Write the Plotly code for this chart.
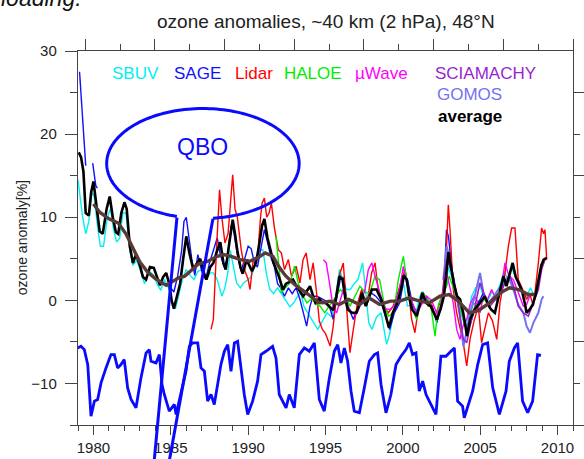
import numpy as np
import plotly.graph_objects as go

# ---------------- data ----------------
avg_t = [1979.05,1979.2,1979.35,1979.5,1979.7,1979.85,1980.0,1980.2,1980.4,1980.6,1980.85,1981.05,1981.25,1981.45,1981.6,1981.8,1982.0,1982.15,1982.35,1982.55,1982.75,1983.0,1983.2,1983.4,1983.65,1983.9,1984.1,1984.3,1984.5,1984.7,1984.9,1985.05,1985.2,1985.4,1985.6,1985.8,1986.0,1986.2,1986.45,1986.7,1986.9,1987.1,1987.3,1987.55,1987.75,1988.0,1988.2,1988.4,1988.55,1988.75,1989.0,1989.15,1989.3,1989.5,1989.65,1989.9,1990.1,1990.25,1990.5,1990.7,1990.9,1991.05,1991.25,1991.45,1991.65,1991.85,1992.0,1992.25,1992.45,1992.65,1992.9,1993.1,1993.3,1993.55,1993.75,1994.0,1994.2,1994.35,1994.6,1994.8,1995.0,1995.25,1995.5,1995.7,1995.9,1996.1,1996.3,1996.45,1996.7,1997.0,1997.2,1997.35,1997.6,1997.8,1998.0,1998.3,1998.6,1998.85,1999.0,1999.1,1999.35,1999.65,1999.9,2000.05,2000.25,2000.45,2000.6,2000.9,2001.1,2001.25,2001.5,2001.8,2002.0,2002.2,2002.45,2002.65,2002.8,2002.95,2003.1,2003.3,2003.5,2003.7,2003.9,2004.05,2004.15,2004.35,2004.6,2004.9,2005.1,2005.3,2005.5,2005.7,2005.95,2006.15,2006.3,2006.5,2006.7,2006.9,2007.1,2007.3,2007.5,2007.7,2007.9,2008.0,2008.2,2008.4,2008.6,2008.8,2008.95,2009.1,2009.3]
avg_v = [17.8,17.2,15.5,10.5,10.2,13.0,14.3,11.5,8.3,8.0,11.0,12.5,10.0,8.2,8.0,10.5,11.8,11.0,6.5,4.5,5.5,4.2,2.8,2.5,4.0,3.9,2.8,1.8,2.8,3.3,2.0,0.0,-1.0,0.5,2.0,5.0,7.7,5.7,3.7,4.5,5.0,3.5,2.5,4.0,4.5,6.0,7.0,4.5,3.7,6.5,9.7,8.0,6.0,4.0,3.2,4.9,4.0,3.5,4.5,6.5,9.0,9.8,7.5,6.0,4.5,3.5,2.8,1.3,2.0,2.2,2.5,1.8,1.2,0.5,1.0,1.7,0.5,-0.3,0.2,-0.3,-0.3,-0.7,-1.2,0.5,2.9,2.5,0.0,-1.1,-1.5,-1.5,-0.5,0.9,-0.7,0.3,1.3,1.3,0.1,-1.5,-2.8,-3.3,-1.5,-0.3,1.5,3.0,2.5,0.0,-1.1,-1.9,-0.5,0.9,-0.3,-0.7,-1.5,-2.3,-1.0,0.5,3.0,5.8,4.2,2.0,0.5,0.1,-1.5,-3.5,-4.3,-2.3,-1.2,-0.5,0.0,0.5,-0.5,-1.1,-1.5,0.0,1.3,2.9,1.7,3.3,4.5,2.8,2.0,1.2,-0.5,-1.5,-1.1,-0.5,0.8,3.0,4.2,4.9,5.1]

trend_t = [1980.0,1980.4,1981.0,1981.6,1982.1,1982.5,1983.0,1983.5,1984.0,1984.7,1985.1,1985.5,1985.9,1986.3,1986.8,1987.4,1988.0,1988.4,1988.9,1989.5,1990.1,1990.7,1991.1,1991.6,1992.0,1992.4,1993.0,1993.6,1994.2,1994.6,1995.0,1995.3,1995.9,1996.5,1997.2,1997.8,1998.5,1999.2,1999.8,2000.4,2001.1,2001.7,2002.4,2003.0,2003.6,2004.3,2004.9,2005.6,2006.3,2006.9,2007.5,2008.1,2008.5]
trend_v = [11.6,10.6,9.8,9.3,8.0,6.4,4.6,3.4,2.6,1.8,2.3,2.7,2.9,3.6,4.4,4.7,5.3,5.5,5.3,4.9,4.7,5.2,5.7,5.3,4.0,3.0,1.9,1.1,0.3,-0.3,-0.2,-0.1,-0.5,0.1,-0.5,0.3,-0.5,-0.1,-0.1,0.3,-0.1,-0.3,0.5,0.7,-0.1,-1.5,-1.2,-0.3,0.9,1.5,1.3,0.7,0.7]

sbuv_t = [1979.0,1979.15,1979.3,1979.5,1979.7,1979.9,1980.05,1980.25,1980.45,1980.65,1980.9,1981.1,1981.3,1981.5,1981.7,1981.9,1982.1,1982.35,1982.55,1982.8,1983.0,1983.3,1983.6,1983.9,1984.1,1984.35,1984.6,1984.85,1985.1,1985.3,1985.5,1985.75,1986.0,1986.25,1986.5,1986.75,1987.0,1987.3,1987.55,1987.75,1988.0,1988.3,1988.5,1988.7,1988.85,1989.05,1989.25,1989.5,1989.7,1990.0,1990.2,1990.5,1990.75,1990.95,1991.2,1991.4,1991.65,1991.9,1992.1,1992.4,1992.7,1992.95,1993.2,1993.4,1993.6,1993.85,1994.2,1994.5,1994.8,1995.1,1995.4,1995.7,1995.9,1996.1,1996.35,1996.6,1996.85,1997.1,1997.4,1997.6,1997.8,1998.0,1998.3,1998.6,1998.8,1998.95,1999.15,1999.45,1999.8,2000.05,2000.3,2000.6,2000.85,2001.1,2001.3,2001.6,2001.9,2002.2,2002.5,2002.75,2002.95,2003.2,2003.5,2003.75,2004.0,2004.2,2004.45,2004.7,2004.95,2005.2,2005.5,2005.75,2006.0,2006.3,2006.55,2006.8,2007.0,2007.25,2007.5,2007.75,2008.0,2008.25,2008.5,2008.75,2009.0]
sbuv_v = [14.5,12.5,10.0,8.0,9.5,13.0,12.5,9.0,6.5,6.5,10.0,11.0,8.5,7.0,7.5,10.5,10.5,6.0,4.2,4.8,3.8,2.0,3.5,3.0,2.0,1.2,2.5,1.5,-0.5,-1.0,0.5,2.5,3.7,3.0,2.5,3.5,3.7,2.5,3.3,3.3,2.5,0.5,1.5,3.5,6.0,4.0,2.1,1.5,2.1,2.5,2.9,4.5,6.0,6.1,3.0,1.3,0.8,1.5,0.9,0.1,-0.8,-0.3,0.5,0.9,-0.7,-1.5,-2.5,-3.5,-2.5,-1.5,-2.0,1.0,3.7,2.5,1.3,1.3,2.0,2.5,4.5,1.0,-2.7,-3.5,-2.0,-1.5,-4.0,-5.3,-4.0,-1.1,0.5,2.0,-0.7,-0.5,-1.5,0.5,1.0,0.0,-1.0,-2.0,-0.5,1.5,4.0,2.5,0.0,-1.5,-3.0,-2.0,0.5,1.5,2.0,0.5,0.0,1.0,0.5,2.0,3.5,2.5,4.0,3.0,2.0,1.0,0.5,1.5,0.5,2.5,4.0]

sage_t = [1979.1,1979.2,1979.3,1979.4,1979.5,1979.7,1979.95,1980.05,1980.15,1980.25,1982.0,
          1984.8,1985.0,1985.2,1985.45,1985.7,1985.85,1986.0,1986.15,1986.35,1986.55,1986.75,1987.0,1987.25,1987.5,1987.75,1988.0,1988.2,1988.45,1988.65,1988.9,1989.05,1989.3,1989.55,1989.8,1990.0,1990.2,1990.4,1990.6,1990.85,1991.05,1991.25,1991.5,1991.7,1991.9,1992.1,1992.35,1992.6,1992.85,1993.1,1993.35,1993.57,1993.78,1994.0,1994.2,1994.45,1994.7,1994.95,1995.25,1995.5,1995.75,1995.95,1996.15,1996.45,1996.8,1997.05,1997.35,1997.65,1997.95,1998.25,1998.6,1998.95,1999.15,1999.45,1999.8,2000.1,2000.3,2000.65,2000.95,2001.3,2001.6,2001.9,2002.2,2002.5,2002.7,2002.82,2002.95,2003.15,2003.4,2003.7,2004.0,2004.2,2004.45,2004.75,2005.0,2005.2,2005.5]
sage_v = [27.5,24.5,21.0,18.0,16.2,None,16.5,15.0,13.8,13.5,None,
          2.5,1.5,1.0,3.0,6.0,9.5,10.0,8.0,5.0,3.0,5.5,3.5,2.5,4.5,6.0,7.5,5.5,4.0,5.0,9.0,8.5,5.5,3.5,5.0,6.5,6.2,4.5,4.0,6.5,8.5,7.0,5.0,4.0,2.0,1.5,0.5,1.5,0.8,1.5,0.1,-1.5,-3.1,-0.7,0.5,0.5,0.2,0.0,-0.7,-2.3,0.5,2.5,2.7,-0.7,-2.3,-1.0,0.9,-0.5,0.9,0.5,-0.3,-2.3,-3.5,-1.5,-0.3,2.9,2.5,-0.7,-1.5,0.5,0.1,-0.7,-2.7,-0.3,3.3,8.5,7.7,4.1,1.0,-0.3,-2.7,-3.9,-2.3,-0.5,0.1,0.9,-0.5]

lidar_t = [1987.6,1987.75,1987.95,1988.15,1988.3,1988.5,1988.7,1988.85,1989.0,1989.15,1989.3,1989.55,1989.8,1990.0,1990.12,1990.33,1990.6,1990.8,1990.9,1991.05,1991.2,1991.35,1991.5,1991.7,1991.95,1992.15,1992.35,1992.6,1992.8,1993.1,1993.35,1993.55,1993.75,1994.0,1994.2,1994.4,1994.6,1994.8,1995.0,1995.3,1995.5,1995.7,1995.94,1996.15,1996.37,1996.58,1996.8,1997.05,1997.34,1997.66,1997.98,1998.2,1998.41,1998.7,1999.06,1999.35,1999.6,1999.92,2000.14,2000.35,2000.57,2000.78,2001.0,2001.32,2001.65,2001.85,2002.08,2002.35,2002.62,2002.83,2002.94,2003.05,2003.26,2003.48,2003.69,2003.9,2004.13,2004.34,2004.6,2004.88,2005.09,2005.3,2005.53,2005.8,2006.07,2006.28,2006.55,2006.82,2007.03,2007.25,2007.46,2007.7,2008.0,2008.2,2008.44,2008.76,2008.97,2009.1,2009.19,2009.3]
lidar_v = [-3.5,-2.3,6.0,13.3,10.0,6.9,8.0,12.0,15.1,11.0,10.0,6.1,3.5,2.5,1.3,4.9,5.0,10.0,11.7,12.3,10.0,10.5,11.7,8.7,6.1,5.7,3.7,4.9,2.9,4.1,2.1,4.9,5.7,2.5,4.5,1.3,-2.5,-3.5,-4.0,-5.5,-3.1,0.5,3.3,4.5,-1.5,-6.3,-3.5,-0.5,1.3,-0.7,3.3,4.5,1.3,-0.5,-1.5,-0.8,0.5,2.5,3.7,1.3,-2.3,-3.9,-1.0,0.9,-0.7,-0.5,-1.9,-0.5,1.3,6.5,11.5,8.5,1.3,-1.5,-3.1,-5.0,-7.9,-4.7,-2.5,-0.7,-5.1,-3.5,-1.5,-2.5,-4.7,-0.3,2.5,6.5,8.7,8.7,2.5,1.5,0.1,0.8,-0.7,4.5,8.7,8.0,8.5,4.9]

haloe_t = [1991.8,1991.95,1992.15,1992.4,1992.7,1993.0,1993.25,1993.55,1993.8,1994.1,1994.4,1994.65,1994.95,1995.3,1995.7,1995.95,1996.25,1996.58,1996.9,1997.23,1997.55,1997.85,1998.2,1998.5,1998.8,1999.06,1999.4,1999.71,2000.03,2000.25,2000.57,2000.89,2001.22,2001.5,2001.8,2002.08,2002.3,2002.62,2002.83,2003.0,2003.3,2003.69,2004.02,2004.23,2004.56,2004.88,2005.09,2005.4]
haloe_v = [7.7,4.9,0.9,1.5,2.1,4.1,2.0,0.5,-0.3,0.2,-0.5,-0.7,-1.5,-0.5,0.5,1.3,0.8,-0.7,0.5,1.7,1.0,0.8,2.9,2.5,-0.5,-1.9,-1.5,2.5,5.3,2.5,-0.7,-2.3,0.9,0.5,-0.5,-4.3,-0.5,0.9,1.7,2.9,1.3,-0.7,-3.1,-2.7,-0.3,-0.7,-0.3,0.3]

mwave_t = [1994.86,1995.05,1995.29,1995.5,1995.72,1995.94,1996.15,1996.4,1996.69,1996.95,1997.23,1997.55,1997.77,1998.0,1998.2,1998.52,1998.85,1999.17,1999.5,1999.8,2000.03,2000.25,2000.55,2000.89,2001.2,2001.54,2001.85,2002.19,2002.4,2002.62,2002.83,2003.05,2003.26,2003.48,2003.69,2003.9,2004.13,2004.35,2004.6,2004.8,2004.99,2005.2,2005.45,2005.74,2006.05,2006.39,2006.6,2006.85,2007.14,2007.45,2007.79,2008.0,2008.2]
mwave_v = [4.9,4.5,1.7,-1.0,-1.5,0.1,1.3,-0.5,-1.5,-1.8,-0.7,1.3,3.7,4.5,2.9,0.9,-1.0,-1.1,-0.5,1.5,4.1,2.0,0.0,-1.5,-0.5,0.5,0.0,-1.5,-1.0,1.3,3.3,1.5,-0.3,-3.5,-4.7,-3.0,-2.3,-0.5,0.5,0.0,-1.5,0.5,0.0,1.3,0.0,1.7,4.5,3.0,2.5,1.0,-0.7,-0.5,0.5]

scia_t = [2002.62,2002.85,2003.05,2003.26,2003.5,2003.7,2003.91,2004.13,2004.35,2004.66,2004.99,2005.3,2005.63,2005.95,2006.28,2006.6,2006.93,2007.2,2007.46,2007.79,2008.11,2008.44,2008.76,2008.97,2009.19]
scia_v = [2.5,5.0,4.0,2.9,0.5,-2.0,-4.7,-5.1,-3.0,-0.7,2.1,0.5,-0.7,0.0,0.9,2.0,2.9,1.5,-0.7,-1.5,-1.9,-0.3,1.3,3.7,4.9]

gomos_t = [2002.62,2002.83,2003.05,2003.26,2003.48,2003.7,2003.91,2004.1,2004.34,2004.65,2004.99,2005.2,2005.5,2005.85,2006.17,2006.5,2006.82,2007.14,2007.46,2007.79,2008.0,2008.22,2008.44,2008.76,2008.97,2009.08]
gomos_v = [2.5,6.5,5.0,2.5,0.5,-2.0,-5.5,-4.0,-1.5,0.5,3.3,1.0,-0.5,0.5,1.3,2.0,2.9,1.3,-0.5,-1.5,-3.1,-3.9,-2.7,-1.5,0.1,0.5]

qbo_t = [1978.98,1979.19,1979.41,1979.63,1979.84,1980.06,1980.27,1980.49,1980.81,1981.13,1981.35,1981.56,1981.78,1981.99,1982.21,1982.43,1982.75,1983.07,1983.40,1983.61,1983.72,1984.04,1984.26,1984.43,1984.58,1984.90,1985.23,1985.34,1985.98,1986.20,1986.41,1986.74,1986.95,1987.17,1987.38,1987.60,1987.81,1988.24,1988.46,1988.68,1988.89,1989.11,1989.32,1989.54,1989.75,1989.97,1990.29,1990.61,1990.83,1991.15,1991.58,1991.80,1992.01,1992.45,1992.66,1992.98,1993.31,1993.63,1993.95,1994.28,1994.60,1994.92,1995.25,1995.57,1995.79,1996.00,1996.22,1996.43,1996.65,1996.86,1997.19,1997.51,1997.83,1998.16,1998.37,1998.59,1998.91,1999.23,1999.56,1999.88,2000.20,2000.42,2000.63,2000.85,2001.06,2001.28,2001.50,2001.71,2002.14,2002.46,2002.79,2003.11,2003.33,2003.54,2003.86,2003.97,2004.19,2004.51,2004.84,2005.16,2005.48,2005.81,2006.24,2006.67,2006.88,2007.21,2007.42,2007.74,2008.07,2008.39,2008.71,2008.93]
qbo_v = [-5.73,-5.53,-5.93,-7.73,-13.93,-12.13,-11.93,-9.93,-8.13,-6.53,-6.53,-8.13,-7.73,-7.13,-10.53,-11.93,-12.93,-9.33,-6.33,-5.93,-7.33,-7.53,-6.53,-10.13,-11.33,-13.33,-12.53,-13.73,-8.53,-5.53,-5.13,-5.13,-8.13,-8.53,-12.13,-11.33,-12.53,-7.73,-6.13,-5.33,-8.53,-5.13,-4.93,-8.53,-11.33,-13.73,-12.13,-9.73,-6.53,-6.13,-5.53,-6.93,-11.33,-12.93,-11.33,-12.93,-6.53,-5.73,-6.13,-5.13,-11.93,-13.33,-9.33,-6.13,-5.33,-7.53,-5.73,-7.33,-10.93,-13.33,-13.53,-10.53,-7.33,-6.53,-6.33,-10.13,-13.53,-11.33,-7.73,-6.73,-5.93,-5.13,-6.53,-6.33,-10.93,-9.73,-11.33,-12.13,-13.73,-6.73,-6.73,-6.13,-5.73,-12.13,-12.73,-14.13,-12.93,-10.93,-7.73,-5.33,-5.13,-10.53,-13.73,-10.93,-7.33,-5.73,-5.13,-12.13,-13.53,-12.13,-6.53,-6.61]

x_ticks = [1980, 1985, 1990, 1995, 2000, 2005, 2010]
y_ticks = [-10, 0, 10, 20, 30]

legend_items = [("SBUV", "#00f0f0"), ("SAGE", "#1010ff"), ("Lidar", "#ff0000"),
                ("HALOE", "#00ee00"), ("\u00b5Wave", "#ff00ff"), ("SCIAMACHY", "#9a1fd0"),
                ("GOMOS", "#7272f2"), ("average", "#000000")]

FONT = "Arial, Liberation Sans, sans-serif"
fig = go.Figure()

def line(t, v, color, width):
    fig.add_trace(go.Scatter(x=t, y=v, mode="lines", line=dict(color=color, width=width),
                             hoverinfo="skip", connectgaps=False))

line(qbo_t, qbo_v, "#0a0aff", 2.8)
line(sbuv_t, sbuv_v, "#00f0f0", 1.4)
line(sage_t, sage_v, "#1010ff", 1.4)
line(lidar_t, lidar_v, "#ff0000", 1.4)
line(haloe_t, haloe_v, "#00ee00", 1.4)
line(mwave_t, mwave_v, "#ff00ff", 1.4)
line(gomos_t, gomos_v, "#7272f2", 2.0)
line(scia_t, scia_v, "#9a1fd0", 1.6)
line(avg_t, avg_v, "#000000", 2.6)
line(trend_t, trend_v, "#5a3a36", 3.4)
# dummy trace for the mirrored axes
fig.add_trace(go.Scatter(x=[None], y=[None], xaxis="x2", yaxis="y2", showlegend=False, hoverinfo="skip"))

# ---- layout geometry (pixels) ----
L, R, T, B = 78, 573.3, 50.7, 425
W, H = 584, 459
def px2p(px, py):
    return (px - L) / (R - L), (B - py) / (B - T)

axcol = "#444444"
common = dict(showline=True, linecolor=axcol, linewidth=1.4, showgrid=False, zeroline=False,
              automargin=False, ticks="outside", tickwidth=1.2, tickcolor=axcol)
fig.update_layout(
    width=W, height=H, margin=dict(l=L, r=W - R, t=T, b=H - B, autoexpand=False),
    plot_bgcolor="white", paper_bgcolor="white", showlegend=False,
    font=dict(family=FONT, color="#222222"),
    xaxis=dict(range=[1979, 2011], tickvals=x_ticks, ticklen=9,
               tickfont=dict(size=15, color="#222"), ticklabelstandoff=0,
               minor=dict(tick0=1979, dtick=1, ticks="outside", ticklen=5, tickcolor=axcol, tickwidth=1.2),
               **common),
    yaxis=dict(range=[-15, 30], tickvals=y_ticks, ticklen=12,
               tickfont=dict(size=15, color="#222"), ticklabelstandoff=5,
               minor=dict(tick0=-15, dtick=5, ticks="outside", ticklen=7, tickcolor=axcol, tickwidth=1.2),
               **common),
    xaxis2=dict(overlaying="x", side="top", range=[-0.207, 14], tickvals=list(range(0, 15, 2)),
                ticklen=11, showticklabels=False,
                minor=dict(tickvals=list(range(1, 15, 2)), ticks="outside", ticklen=6, tickcolor=axcol, tickwidth=1.2),
                **common),
    yaxis2=dict(overlaying="y", side="right", range=[-15, 30], tickvals=[-15, -5, 5, 15, 25],
                ticklen=10, showticklabels=False,
                minor=dict(tickvals=[-10, 0, 10, 20], ticks="outside", ticklen=6, tickcolor=axcol, tickwidth=1.2),
                **common),
)

ann = []
# title
ann.append(dict(text="ozone anomalies, ~40 km (2 hPa), 48\u00b0N", xref="paper", yref="paper",
                x=px2p(326, 0)[0], y=px2p(0, 21)[1], xanchor="center", yanchor="middle",
                showarrow=False, font=dict(size=19, color="#222")))
# cut-off caption at the very top (as in the reference)
ann.append(dict(text="<i>loading.</i>", xref="paper", yref="paper",
                x=px2p(-1, 0)[0], y=px2p(0, -2)[1], xanchor="left", yanchor="middle",
                showarrow=False, font=dict(size=23, color="#111")))
# y axis title
ann.append(dict(text="ozone anomaly[%]", xref="paper", yref="paper", textangle=-90,
                x=px2p(22, 0)[0], y=px2p(0, 238)[1], xanchor="center", yanchor="middle",
                showarrow=False, font=dict(size=14, color="#222")))
# in-plot legend
leg_pos = [(110, 73), (172, 73), (233, 73), (282, 73), (353, 73), (433, 73), (435, 94), (436, 116)]
for (name, col), (lx, ly) in zip(legend_items, leg_pos):
    txt = "<b>%s</b>" % name if name == "average" else name
    ax_, ay_ = px2p(lx, ly)
    ann.append(dict(text=txt, xref="paper", yref="paper", x=ax_, y=ay_, xanchor="left",
                    yanchor="middle", showarrow=False, font=dict(size=17, color=col)))
# QBO label
qx, qy = px2p(203, 147)
ann.append(dict(text="QBO", xref="paper", yref="paper", x=qx, y=qy, xanchor="center",
                yanchor="middle", showarrow=False, font=dict(size=23, color="#0a0aff")))
fig.update_layout(annotations=ann)

# QBO call-out bubble
cx, cy, rx, ry = 203, 163.3, 96.3, 55
th = np.radians(np.linspace(105.7, 444.0, 160))
pts = [px2p(cx + rx * np.cos(a), cy + ry * np.sin(a)) for a in th]
path = "M " + " L ".join("%.5f,%.5f" % p for p in pts)
shapes = [dict(type="path", path=path, xref="paper", yref="paper",
               line=dict(color="#0a0aff", width=3))]
p1a, p1b = px2p(177, 217.5), px2p(152, 485)
p2a, p2b = px2p(213, 218.5), px2p(165, 485)
for a, b in [(p1a, p1b), (p2a, p2b)]:
    shapes.append(dict(type="line", xref="paper", yref="paper", x0=a[0], y0=a[1], x1=b[0], y1=b[1],
                       line=dict(color="#0a0aff", width=3)))
fig.update_layout(shapes=shapes)

fig.write_html("out.html")
